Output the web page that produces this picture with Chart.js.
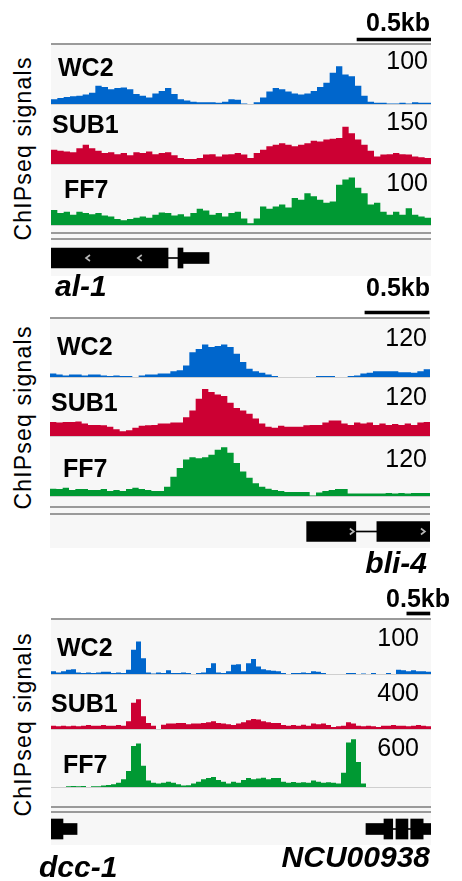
<!DOCTYPE html>
<html>
<head>
<meta charset="utf-8">
<script src="https://cdn.jsdelivr.net/npm/chart.js@4.4.1/dist/chart.umd.min.js"></script>
<style>
  body { margin: 0; background: #fff; width: 462px; height: 881px; position: relative; overflow: hidden;
         font-family: "Liberation Sans", Arial, sans-serif; color: #000; }
  .txt { position: absolute; line-height: 1; white-space: nowrap; }
  .bold { font-weight: bold; }
  .gene { font-weight: bold; font-style: italic; font-size: 30px; }
  .ylab { position: absolute; font-size: 23px; line-height: 23px; letter-spacing: 1.2px; width: 240px;
          text-align: center; transform: rotate(-90deg); white-space: nowrap; }
  .box { position: absolute; }
</style>
</head>
<body>
<script>
// ---- data ----
const trackNames = ["WC2", "SUB1", "FF7"];
const trackColors = ["#0066cc", "#cc0033", "#009933"];
const geneNames = [["al-1"], ["bli-4"], ["dcc-1", "NCU00938"]];
const scaleLabel = "0.5kb";

// data range max for each track (the numbers at right)
const p1Max = [100, 150, 100];
const p2Max = [120, 120, 120];
const p3Max = [100, 400, 600];

// span of each window in kb, and the 0.5kb scale bar
const spanKb = [2.568, 2.961, 8.24];
const scaleBars = [[2.068, 2.568], [2.454, 2.954], [7.716, 8.216]];

// al-1 locus
const p1WC2 = [8,10,12,13,14,16,19,31,29,25, 27,28,25,17,14,11,18,22,27,17, 8,6,4,3,3,3,2,4,8,7,
               1,0,3,11,21,27,25,21,18,16, 18,22,29,36,53,64,50,47,31,14, 4,2,2,1,1,2,1,3,2,2];
const p1SUB1 = [36,34,32,30,40,49,40,34,28,30, 25,28,22,30,28,32,25,28,30,22, 15,13,13,15,24,25,19,24,25,28,
                24,15,28,36,45,49,53,49,45,49, 53,59,57,62,64,66,95,78,62,49, 34,19,24,25,28,25,24,19,17,15];
const p1FF7 = [25,20,22,17,22,20,18,20,16,14, 10,8,10,12,14,12,17,21,20,16, 18,14,20,27,24,17,20,14,20,22,
               11,3,11,31,27,31,34,29,45,42, 53,48,42,37,39,67,76,79,62,53, 34,37,22,17,22,17,28,17,14,12];

// bli-4 locus
const p2WC2 = [7,5,3,5,5,3,5,5,3,2, 3,2,2,0,3,5,5,7,7,12, 14,24,51,58,67,62,64,67,62,48,
               31,17,12,9,5,2,0,0,0,0, 0,0,2,2,2,0,0,2,3,7, 9,12,12,12,12,10,10,9,12,16];
const p2SUB1 = [29,28,29,29,30,26,23,23,22,19, 14,10,12,17,21,22,23,26,26,28, 28,39,53,77,97,91,86,83,69,58,
                53,46,36,26,19,17,21,19,19,19, 22,23,23,28,32,32,26,23,28,26, 28,23,26,23,25,23,26,23,28,29];
const p2FF7 = [15,14,17,12,14,14,12,12,14,10, 12,10,14,17,14,12,10,10,19,39, 57,74,79,77,79,84,94,99,88,67,
               50,37,26,19,15,12,10,8,8,8, 8,1,7,10,12,14,14,5,5,5, 5,5,5,6,5,6,5,6,6,6];

// dcc-1 / NCU00938 locus
const p3WC2 = [5,3,5,8,9,3,2,3,2,3, 4,4,2,3,2,8,45,60,29,3, 1,3,2,7,2,2,3,2,0,2,
               3,11,20,3,2,5,17,18,5,20, 28,14,9,7,6,5,2,0,2,2, 3,2,5,4,2,0,0,0,0,2,
               2,0,1,0,2,0,0,2,0,8, 7,5,7,5,5,4];
const p3SUB1 = [25,20,25,20,25,20,25,30,25,25, 30,25,25,30,25,57,195,220,95,45, 25,0,32,40,40,45,45,35,40,40,
                45,50,57,45,40,35,30,40,50,65, 75,70,57,50,45,45,30,25,30,25, 32,25,40,35,40,30,15,20,25,50,
                40,25,20,25,20,15,25,25,30,25, 25,20,25,30,25,20];
const p3FF7 = [0,0,0,8,11,8,11,0,8,8, 15,22,30,45,82,169,431,457,225,68, 45,38,45,56,45,30,15,19,38,56,
               82,94,105,75,56,38,56,45,75,94, 82,90,98,82,94,94,56,45,52,45, 49,45,68,56,45,49,45,38,150,469,
               502,263,38,0,0,0,0,0,0,0, 0,0,0,0,0,0];

// gene models, kb from window start
const p1Exons = [[0, 0.791], [0.858, 0.892]];
const p1Utrs = [[0.892, 1.068]];
const p1Introns = [[0.791, 0.858]];
const p1Chevrons = [0.25, 0.60];
const p2Exons = [[2.0, 2.383], [2.547, 2.961]];
const p2Utrs = [];
const p2Introns = [[2.383, 2.547]];
const p2Chevrons = [2.352, 2.906];
const p3Exons = [[0, 0.26], [7.22, 7.41], [7.48, 7.74], [7.80, 8.07]];
const p3Utrs = [[0.26, 0.565], [6.83, 7.22], [8.07, 8.24]];
const p3Introns = [[7.41, 7.48], [7.74, 7.80]];
const p3Chevrons = [];

// ---- layout ----
const panels = [
  { left: 51, width: 379, rule: 43, tracks: [[45, 59], [105, 59], [165, 60]], dbl: [232, 238], gene: [240, 36],
    bar: 36, values: [p1WC2, p1SUB1, p1FF7], max: p1Max, exons: p1Exons, utrs: p1Utrs, introns: p1Introns,
    chev: p1Chevrons, dir: -1, ylab: 148,
    names: [[58, 54.8], [52, 111.8], [64, 176.8]], maxPos: [[34, 47.8], [34, 108.8], [34, 169.8]],
    scaleTxt: [32, 9.8], genes: [{ left: 55, top: 270.6 }] },
  { left: 50, width: 379, rule: 317, tracks: [[319, 58], [378, 58], [437, 59]], dbl: [506, 513], gene: [515, 33],
    bar: 309, values: [p2WC2, p2SUB1, p2FF7], max: p2Max, exons: p2Exons, utrs: p2Utrs, introns: p2Introns,
    chev: p2Chevrons, dir: 1, ylab: 417,
    names: [[57, 333.8], [51, 389.8], [63, 455.8]], maxPos: [[35, 324.8], [35, 383.8], [35, 445.8]],
    scaleTxt: [32, 274.8], genes: [{ right: 35, top: 547.6 }] },
  { left: 51, width: 379, rule: 618, tracks: [[620, 54], [675, 54], [730, 57]], dbl: [806, 811], gene: [813, 32],
    bar: 610, values: [p3WC2, p3SUB1, p3FF7], max: p3Max, exons: p3Exons, utrs: p3Utrs, introns: p3Introns,
    chev: p3Chevrons, dir: -1, ylab: 724,
    names: [[57, 634.8], [51, 690.8], [63, 751.8]], maxPos: [[43, 624.8], [43, 679.8], [43, 734.8]],
    scaleTxt: [12, 585.8], genes: [{ left: 39, top: 851.6 }, { right: 32, top: 841.6 }] }
];

function addBox(left, top, w, h, bg) {
  const d = document.createElement("div");
  d.className = "box";
  d.style.cssText = `left:${left}px;top:${top}px;width:${w}px;height:${h}px;background:${bg}`;
  document.body.appendChild(d);
  return d;
}

function addText(text, cls, pos, size) {
  const d = document.createElement("div");
  d.className = "txt " + cls;
  d.textContent = text;
  let css = `top:${pos.top}px;`;
  if (pos.left !== undefined) css += `left:${pos.left}px;`;
  if (pos.right !== undefined) css += `right:${pos.right}px;`;
  if (size) css += `font-size:${size}px;`;
  d.style.cssText += css;
  document.body.appendChild(d);
}

function addCanvas(left, top, w, h) {
  const c = document.createElement("canvas");
  c.width = w; c.height = h;
  c.style.cssText = `position:absolute;left:${left}px;top:${top}px;width:${w}px;height:${h}px`;
  document.body.appendChild(c);
  return c;
}

const baseOpts = {
  responsive: false, animation: false, events: [],
  layout: { padding: 0 },
  plugins: { legend: { display: false }, tooltip: { enabled: false } }
};

function signalChart(canvas, values, max, color) {
  // one point per bin edge so each bin becomes a flat step
  const pts = values.map((v, i) => ({ x: i, y: v }));
  pts.push({ x: values.length, y: values[values.length - 1] });
  new Chart(canvas, {
    type: "line",
    data: { datasets: [{ data: pts, stepped: "before", fill: "origin", backgroundColor: color,
                         borderColor: color, borderWidth: 0, pointRadius: 0 }] },
    options: { ...baseOpts,
      scales: { x: { type: "linear", display: false, min: 0, max: values.length },
                y: { display: false, min: 0, max: max } } }
  });
}

// little strand arrows on the exons
const chevronPlugin = {
  id: "chevrons",
  afterDatasetsDraw(chart, args, opts) {
    const ctx = chart.ctx, xs = chart.scales.x;
    const cy = (chart.chartArea.top + chart.chartArea.bottom) / 2;
    ctx.save();
    ctx.strokeStyle = "#b8b8b8";
    ctx.lineWidth = 1.6;
    (opts.at || []).forEach(kb => {
      const x = xs.getPixelForValue(kb);
      ctx.beginPath();
      ctx.moveTo(x - 2 * opts.dir, cy - 3);
      ctx.lineTo(x + 2 * opts.dir, cy);
      ctx.lineTo(x - 2 * opts.dir, cy + 3);
      ctx.stroke();
    });
    ctx.restore();
  }
};

function rangeSet(ranges, thick) {
  return { data: ranges.map(r => ({ x: r, y: "g" })), backgroundColor: "#000", borderWidth: 0,
           barThickness: thick, grouped: false };
}

function geneChart(canvas, p, span) {
  new Chart(canvas, {
    type: "bar",
    data: { labels: ["g"], datasets: [rangeSet(p.introns, 1), rangeSet(p.utrs, 11), rangeSet(p.exons, 20)] },
    options: { ...baseOpts, indexAxis: "y",
      plugins: { ...baseOpts.plugins, chevrons: { at: p.chev, dir: p.dir } },
      scales: { x: { type: "linear", display: false, min: 0, max: span }, y: { display: false } } },
    plugins: [chevronPlugin]
  });
}

function scaleBarChart(canvas, bar, span) {
  new Chart(canvas, {
    type: "bar",
    data: { labels: ["s"], datasets: [{ data: [{ x: bar, y: "s" }], backgroundColor: "#000", barThickness: 3 }] },
    options: { ...baseOpts, indexAxis: "y",
      scales: { x: { type: "linear", display: false, min: 0, max: span }, y: { display: false } } }
  });
}

panels.forEach((p, pi) => {
  const geneBottom = p.gene[0] + p.gene[1];
  // light background and rules
  addBox(p.left, p.rule + 2, p.width + 1, geneBottom - p.rule - 2, "#f7f7f7");
  addBox(p.left, p.rule, p.width + 1, 2, "#9a9a9a");
  p.dbl.forEach(y => addBox(p.left, y, p.width + 1, 2, "#9a9a9a"));

  p.tracks.forEach((t, ti) => {
    addBox(p.left, t[0] + t[1], p.width + 1, 1, "#cfcfcf");
    signalChart(addCanvas(p.left, t[0], p.width + 1, t[1]), p.values[ti], p.max[ti], trackColors[ti]);
    addText(trackNames[ti], "bold", { left: p.names[ti][0], top: p.names[ti][1] }, 25);
    addText(String(p.max[ti]), "", { right: p.maxPos[ti][0], top: p.maxPos[ti][1] }, 25);
  });

  geneChart(addCanvas(p.left, p.gene[0], p.width + 1, p.gene[1]), p, spanKb[pi]);
  scaleBarChart(addCanvas(p.left, p.bar, p.width + 1, 7), scaleBars[pi], spanKb[pi]);
  addText(scaleLabel, "bold", { right: p.scaleTxt[0], top: p.scaleTxt[1] }, 25);

  geneNames[pi].forEach((g, gi) => addText(g, "gene", p.genes[gi]));

  const yl = document.createElement("div");
  yl.className = "ylab";
  yl.textContent = "ChIPseq signals";
  yl.style.left = (23 - 120) + "px";
  yl.style.top = (p.ylab - 11.5) + "px";
  document.body.appendChild(yl);
});
</script>
</body>
</html>
